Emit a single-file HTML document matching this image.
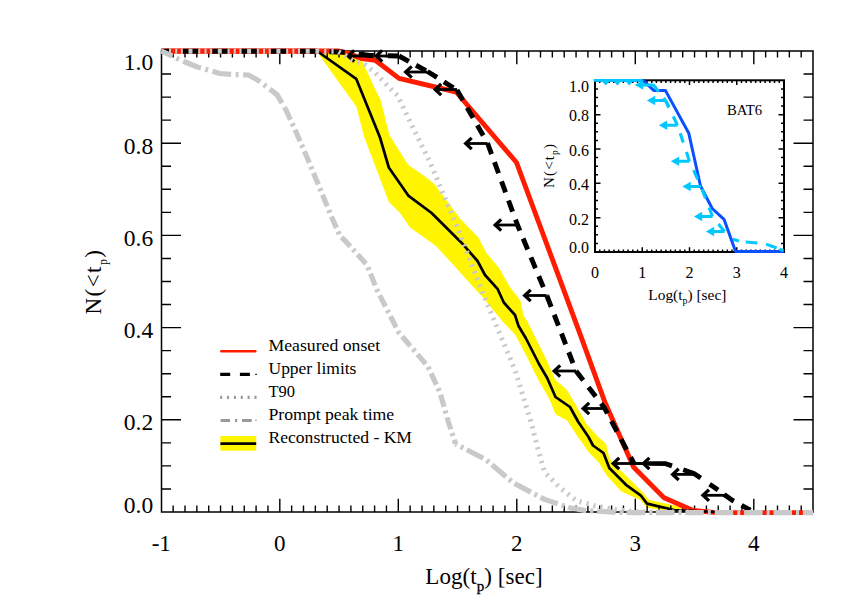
<!DOCTYPE html>
<html><head><meta charset="utf-8"><title>Chart</title>
<style>html,body{margin:0;padding:0;background:#fff}body{width:861px;height:615px;position:relative;overflow:hidden;font-family:"Liberation Serif",serif}</style>
</head><body>
<svg width="861" height="615" viewBox="0 0 861 615" style="position:absolute;left:0;top:0">
<rect width="861" height="615" fill="#fff"/>
<polygon points="317.0,51.0 352.0,51.0 361.0,60.0 374.0,88.0 380.0,100.0 388.8,135.0 407.5,165.0 426.0,178.0 434.0,184.5 460.0,219.4 478.0,238.0 486.0,253.3 499.0,269.0 509.3,287.0 520.0,301.0 523.0,316.0 526.0,320.0 533.8,335.6 545.5,359.0 554.7,379.9 566.4,390.3 574.2,403.3 585.9,424.1 597.6,437.1 605.4,444.0 609.0,459.0 620.0,470.5 640.6,491.0 649.0,500.5 693.0,510.0 674.0,512.0 647.0,506.8 640.6,499.4 621.8,491.0 606.7,474.5 598.9,461.8 589.8,452.7 578.0,435.8 567.7,420.2 556.0,413.7 549.5,398.0 539.0,379.9 526.0,353.8 515.6,334.3 503.9,322.0 486.0,300.0 462.5,274.0 436.4,245.5 410.4,227.0 400.0,212.0 389.5,201.8 365.0,137.5 357.0,106.5 317.0,51.0" fill="#fff500" stroke="#fff500" stroke-width="1.2" stroke-linejoin="round"/>
<path d="M173.15 512.00v-6.60M173.15 51.00v6.60M185.00 512.00v-6.60M185.00 51.00v6.60M196.85 512.00v-6.60M196.85 51.00v6.60M208.70 512.00v-6.60M208.70 51.00v6.60M220.55 512.00v-6.60M220.55 51.00v6.60M232.40 512.00v-6.60M232.40 51.00v6.60M244.25 512.00v-6.60M244.25 51.00v6.60M256.10 512.00v-6.60M256.10 51.00v6.60M267.95 512.00v-6.60M267.95 51.00v6.60M279.80 512.00v-13.30M279.80 51.00v13.30M291.65 512.00v-6.60M291.65 51.00v6.60M303.50 512.00v-6.60M303.50 51.00v6.60M315.35 512.00v-6.60M315.35 51.00v6.60M327.20 512.00v-6.60M327.20 51.00v6.60M339.05 512.00v-6.60M339.05 51.00v6.60M350.90 512.00v-6.60M350.90 51.00v6.60M362.75 512.00v-6.60M362.75 51.00v6.60M374.60 512.00v-6.60M374.60 51.00v6.60M386.45 512.00v-6.60M386.45 51.00v6.60M398.30 512.00v-13.30M398.30 51.00v13.30M410.15 512.00v-6.60M410.15 51.00v6.60M422.00 512.00v-6.60M422.00 51.00v6.60M433.85 512.00v-6.60M433.85 51.00v6.60M445.70 512.00v-6.60M445.70 51.00v6.60M457.55 512.00v-6.60M457.55 51.00v6.60M469.40 512.00v-6.60M469.40 51.00v6.60M481.25 512.00v-6.60M481.25 51.00v6.60M493.10 512.00v-6.60M493.10 51.00v6.60M504.95 512.00v-6.60M504.95 51.00v6.60M516.80 512.00v-13.30M516.80 51.00v13.30M528.65 512.00v-6.60M528.65 51.00v6.60M540.50 512.00v-6.60M540.50 51.00v6.60M552.35 512.00v-6.60M552.35 51.00v6.60M564.20 512.00v-6.60M564.20 51.00v6.60M576.05 512.00v-6.60M576.05 51.00v6.60M587.90 512.00v-6.60M587.90 51.00v6.60M599.75 512.00v-6.60M599.75 51.00v6.60M611.60 512.00v-6.60M611.60 51.00v6.60M623.45 512.00v-6.60M623.45 51.00v6.60M635.30 512.00v-13.30M635.30 51.00v13.30M647.15 512.00v-6.60M647.15 51.00v6.60M659.00 512.00v-6.60M659.00 51.00v6.60M670.85 512.00v-6.60M670.85 51.00v6.60M682.70 512.00v-6.60M682.70 51.00v6.60M694.55 512.00v-6.60M694.55 51.00v6.60M706.40 512.00v-6.60M706.40 51.00v6.60M718.25 512.00v-6.60M718.25 51.00v6.60M730.10 512.00v-6.60M730.10 51.00v6.60M741.95 512.00v-6.60M741.95 51.00v6.60M753.80 512.00v-13.30M753.80 51.00v13.30M765.65 512.00v-6.60M765.65 51.00v6.60M777.50 512.00v-6.60M777.50 51.00v6.60M789.35 512.00v-6.60M789.35 51.00v6.60M801.20 512.00v-6.60M801.20 51.00v6.60M161.50 488.95h9.50M813.00 488.95h-9.50M161.50 465.90h9.50M813.00 465.90h-9.50M161.50 442.85h9.50M813.00 442.85h-9.50M161.50 419.80h19.50M813.00 419.80h-19.50M161.50 396.75h9.50M813.00 396.75h-9.50M161.50 373.70h9.50M813.00 373.70h-9.50M161.50 350.65h9.50M813.00 350.65h-9.50M161.50 327.60h19.50M813.00 327.60h-19.50M161.50 304.55h9.50M813.00 304.55h-9.50M161.50 281.50h9.50M813.00 281.50h-9.50M161.50 258.45h9.50M813.00 258.45h-9.50M161.50 235.40h19.50M813.00 235.40h-19.50M161.50 212.35h9.50M813.00 212.35h-9.50M161.50 189.30h9.50M813.00 189.30h-9.50M161.50 166.25h9.50M813.00 166.25h-9.50M161.50 143.20h19.50M813.00 143.20h-19.50M161.50 120.15h9.50M813.00 120.15h-9.50M161.50 97.10h9.50M813.00 97.10h-9.50M161.50 74.05h9.50M813.00 74.05h-9.50" stroke="#000" stroke-width="1.4" fill="none"/>
<rect x="161.50" y="51.00" width="651.50" height="461.00" fill="none" stroke="#000" stroke-width="1.5"/>
<polyline points="161.5,51.0 338.0,51.0 348.8,53.3 360.0,58.2 375.3,60.3 399.0,78.4 456.2,92.0 516.5,162.5 580.0,333.8 605.0,402.5 633.5,467.0 663.6,497.4 693.0,510.5 716.0,512.6 813.0,512.6" fill="none" stroke="#ff1c00" stroke-width="4.9" stroke-linejoin="round"/>
<line x1="161.5" y1="51.2" x2="317.4" y2="51.2" stroke="#ff1c00" stroke-width="5"/>
<polyline points="161.5,51.2 317.4,51.2 349,52.5 370,55.5 399,56" fill="none" stroke="#000" stroke-width="5" stroke-dasharray="15.3 14" stroke-dashoffset="-21.5"/>
<polyline points="399.0,56.0 427.5,71.5" fill="none" stroke="#000" stroke-width="4.9" stroke-dasharray="11.2 8.2" stroke-dashoffset="0.00" stroke-linejoin="round"/>
<polyline points="427.5,71.5 457.0,90.0" fill="none" stroke="#000" stroke-width="4.9" stroke-dasharray="11.2 8.2" stroke-dashoffset="0.00" stroke-linejoin="round"/>
<polyline points="457.0,90.0 487.5,143.0" fill="none" stroke="#000" stroke-width="4.9" stroke-dasharray="11.8 8.57" stroke-dashoffset="0.00" stroke-linejoin="round"/>
<polyline points="487.5,143.0 517.5,225.0 547.0,296.0" fill="none" stroke="#000" stroke-width="4.9" stroke-dasharray="11.8 8.6" stroke-dashoffset="0.00" stroke-linejoin="round"/>
<polyline points="547.0,296.0 576.0,371.0" fill="none" stroke="#000" stroke-width="4.9" stroke-dasharray="11.6 8.5" stroke-dashoffset="0.00" stroke-linejoin="round"/>
<polyline points="576.0,371.0 604.5,408.0 634.0,463.5" fill="none" stroke="#000" stroke-width="4.9" stroke-dasharray="11.8 8.7" stroke-dashoffset="0.00" stroke-linejoin="round"/>
<polyline points="665.0,463.5 694.0,473.5 713.8,487.0 724.8,495.0 732.6,500.5 752.0,511.0" fill="none" stroke="#000" stroke-width="4.9" stroke-dasharray="7.4 11.9 19.5 10.8 10.3 7.4 11.9 8.8 10 100" stroke-dashoffset="0.00" stroke-linejoin="round"/>
<path d="M370.0 56.0H347.8" stroke="#000" stroke-width="2.8" fill="none"/>
<path d="M354.2 50.4L348.2 56.0L354.2 61.6" stroke="#000" stroke-width="3.3" fill="none" stroke-linejoin="miter"/>
<path d="M398.0 56.0H375.8" stroke="#000" stroke-width="2.8" fill="none"/>
<path d="M382.2 50.4L376.2 56.0L382.2 61.6" stroke="#000" stroke-width="3.3" fill="none" stroke-linejoin="miter"/>
<path d="M427.5 72.0H405.3" stroke="#000" stroke-width="2.8" fill="none"/>
<path d="M411.7 66.4L405.7 72.0L411.7 77.6" stroke="#000" stroke-width="3.3" fill="none" stroke-linejoin="miter"/>
<path d="M457.0 89.5H434.8" stroke="#000" stroke-width="2.8" fill="none"/>
<path d="M441.2 83.9L435.2 89.5L441.2 95.1" stroke="#000" stroke-width="3.3" fill="none" stroke-linejoin="miter"/>
<path d="M487.5 143.5H465.3" stroke="#000" stroke-width="2.8" fill="none"/>
<path d="M471.7 137.9L465.7 143.5L471.7 149.1" stroke="#000" stroke-width="3.3" fill="none" stroke-linejoin="miter"/>
<path d="M517.0 225.0H494.8" stroke="#000" stroke-width="2.8" fill="none"/>
<path d="M501.2 219.4L495.2 225.0L501.2 230.6" stroke="#000" stroke-width="3.3" fill="none" stroke-linejoin="miter"/>
<path d="M546.5 295.5H524.3" stroke="#000" stroke-width="2.8" fill="none"/>
<path d="M530.7 289.9L524.7 295.5L530.7 301.1" stroke="#000" stroke-width="3.3" fill="none" stroke-linejoin="miter"/>
<path d="M576.0 371.0H553.8" stroke="#000" stroke-width="2.8" fill="none"/>
<path d="M560.2 365.4L554.2 371.0L560.2 376.6" stroke="#000" stroke-width="3.3" fill="none" stroke-linejoin="miter"/>
<path d="M605.0 408.5H582.8" stroke="#000" stroke-width="2.8" fill="none"/>
<path d="M589.2 402.9L583.2 408.5L589.2 414.1" stroke="#000" stroke-width="3.3" fill="none" stroke-linejoin="miter"/>
<path d="M635.0 463.5H612.8" stroke="#000" stroke-width="2.8" fill="none"/>
<path d="M619.2 457.9L613.2 463.5L619.2 469.1" stroke="#000" stroke-width="3.3" fill="none" stroke-linejoin="miter"/>
<path d="M665.2 463.5H643.0" stroke="#000" stroke-width="2.8" fill="none"/>
<path d="M649.4 457.9L643.4 463.5L649.4 469.1" stroke="#000" stroke-width="3.3" fill="none" stroke-linejoin="miter"/>
<path d="M694.5 474.4H672.3" stroke="#000" stroke-width="2.8" fill="none"/>
<path d="M678.7 468.8L672.7 474.4L678.7 480.0" stroke="#000" stroke-width="3.3" fill="none" stroke-linejoin="miter"/>
<path d="M724.8 495.3H702.6" stroke="#000" stroke-width="2.8" fill="none"/>
<path d="M709.0 489.7L703.0 495.3L709.0 500.9" stroke="#000" stroke-width="3.3" fill="none" stroke-linejoin="miter"/>
<polyline points="317.0,51.0 356.2,78.8 380.0,137.5 388.8,167.5 408.6,195.9 431.6,213.0 462.5,243.8 477.5,261.0 485.0,275.0 497.5,288.8 503.8,302.5 515.0,315.0 518.5,326.0 526.0,338.5 539.0,364.0 547.2,378.0 555.5,397.0 570.0,407.0 578.0,421.5 588.5,437.0 593.0,445.5 603.5,453.0 609.3,468.0 626.0,484.8 640.6,495.3 647.0,503.6 674.0,510.0 715.0,512.0" fill="none" stroke="#000" stroke-width="2.7" stroke-linejoin="round"/>
<line x1="161.5" y1="51.2" x2="317.4" y2="51.2" stroke="#c9c9c9" stroke-width="5" stroke-dasharray="2 5.7 4 5.8 2 4.2 2 3.6" stroke-dashoffset="10"/>
<polyline points="317.0,51.0 338.0,51.5 346.0,56.0 352.0,60.0 358.5,62.4 365.5,65.0 375.3,72.8 387.8,86.0 397.5,95.5 415.0,132.0 429.0,160.0 442.0,191.0 462.0,239.0 482.5,292.5 497.0,327.0 515.0,370.0 531.0,422.0 538.0,449.0 544.5,472.0 559.0,487.0 576.0,500.5 594.7,505.7 617.7,510.0 640.0,512.0 690.0,512.0" fill="none" stroke="#c9c9c9" stroke-width="5" stroke-dasharray="2.2 5"/>
<polyline points="161.5,51.0 181.0,60.4 197.4,67.0 220.0,73.5 234.8,74.6 248.6,75.0 257.6,80.0 277.0,94.6 285.2,108.4" fill="none" stroke="#c9c9c9" stroke-width="5.2" stroke-dasharray="19 4.5 3 4.5" stroke-dashoffset="7" stroke-linejoin="round"/>
<polyline points="285.2,108.4 295.0,129.5 309.0,162.0 332.4,218.7 340.0,236.0 346.3,242.0 367.0,265.0 377.0,290.0 398.8,332.6 428.0,366.6 440.0,392.5 448.4,422.0 455.7,444.0" fill="none" stroke="#c9c9c9" stroke-width="5.2" stroke-dasharray="12.5 4 3 4" stroke-dashoffset="0" stroke-linejoin="round"/>
<polyline points="455.7,444.0 486.0,459.7 513.0,482.7 544.5,499.4 569.6,507.8 586.0,510.6 613.5,512.2 626.5,512.6 813.0,512.6" fill="none" stroke="#c9c9c9" stroke-width="5.2" stroke-dasharray="18.5 4 3 3.9" stroke-dashoffset="16.89" stroke-linejoin="round"/>
<line x1="634" y1="463.5" x2="665" y2="463.5" stroke="#000" stroke-width="3"/><line x1="648" y1="463.5" x2="666" y2="463.7" stroke="#000" stroke-width="4.7"/>
<line x1="221.4" y1="351.3" x2="255.2" y2="351.3" stroke="#ff1c00" stroke-width="2.6" stroke-linecap="round"/>
<path d="M220.2 374.4H230.2M239.9 374.4H249.9" stroke="#000" stroke-width="3.3" fill="none"/><path d="M255.3 374.4H256.8" stroke="#000" stroke-width="1.4" fill="none"/>
<line x1="220.1" y1="397.4" x2="257.0" y2="397.4" stroke="#9c9c9c" stroke-width="3.1" stroke-dasharray="2.1 4.77"/>
<path d="M220.6 420.4H230.1M235 420.4H237.2M242 420.4H251.8" stroke="#9a9a9a" stroke-width="3" fill="none"/><path d="M255.2 420.4H256.7" stroke="#9a9a9a" stroke-width="1.4" fill="none"/>
<rect x="220.4" y="436" width="35.8" height="14.7" fill="#fff500"/>
<line x1="220.4" y1="443.6" x2="256.2" y2="443.6" stroke="#000" stroke-width="2.6"/>
<text x="268.5" y="351.3" font-family="Liberation Serif, serif" font-size="17" textLength="111.6" lengthAdjust="spacingAndGlyphs">Measured onset</text>
<text x="268.5" y="374.3" font-family="Liberation Serif, serif" font-size="17" textLength="87.9" lengthAdjust="spacingAndGlyphs">Upper limits</text>
<text x="268.5" y="397.3" font-family="Liberation Serif, serif" font-size="17" textLength="26.5" lengthAdjust="spacingAndGlyphs">T90</text>
<text x="268.5" y="420.3" font-family="Liberation Serif, serif" font-size="17" textLength="125.7" lengthAdjust="spacingAndGlyphs">Prompt peak time</text>
<text x="268.5" y="443.3" font-family="Liberation Serif, serif" font-size="17" textLength="143.5" lengthAdjust="spacingAndGlyphs">Reconstructed - KM</text>
<text x="153.2" y="69.5" text-anchor="end" font-family="Liberation Serif, serif" font-size="23.5">1.0</text>
<text x="153.2" y="153.6" text-anchor="end" font-family="Liberation Serif, serif" font-size="23.5">0.8</text>
<text x="153.2" y="246.0" text-anchor="end" font-family="Liberation Serif, serif" font-size="23.5">0.6</text>
<text x="153.2" y="338.3" text-anchor="end" font-family="Liberation Serif, serif" font-size="23.5">0.4</text>
<text x="153.2" y="430.4" text-anchor="end" font-family="Liberation Serif, serif" font-size="23.5">0.2</text>
<text x="153.2" y="512.9" text-anchor="end" font-family="Liberation Serif, serif" font-size="23.5">0.0</text>
<text x="161.3" y="551" text-anchor="middle" font-family="Liberation Serif, serif" font-size="23">-1</text>
<text x="279.8" y="551" text-anchor="middle" font-family="Liberation Serif, serif" font-size="23">0</text>
<text x="398.3" y="551" text-anchor="middle" font-family="Liberation Serif, serif" font-size="23">1</text>
<text x="516.8" y="551" text-anchor="middle" font-family="Liberation Serif, serif" font-size="23">2</text>
<text x="635.3" y="551" text-anchor="middle" font-family="Liberation Serif, serif" font-size="23">3</text>
<text x="753.8" y="551" text-anchor="middle" font-family="Liberation Serif, serif" font-size="23">4</text>
<text x="425.3" y="584.3" font-family="Liberation Serif, serif" font-size="23" textLength="117.3" lengthAdjust="spacing">Log(t<tspan font-size="15" dy="6.4" stroke="#000" stroke-width="0.35">p</tspan><tspan dy="-6.4">) [sec]</tspan></text>
<text transform="translate(101.2,314.5) rotate(-90)" font-family="Liberation Serif, serif" font-size="23" textLength="64.5" lengthAdjust="spacing">N(&lt;t<tspan font-size="12" dy="6">p</tspan><tspan dy="-6">)</tspan></text>
<rect x="595.0" y="80.3" width="189.0" height="171.7" fill="#fff"/>
<path d="M599.73 252.00v-2.60M599.73 80.30v2.60M604.45 252.00v-2.60M604.45 80.30v2.60M609.17 252.00v-2.60M609.17 80.30v2.60M613.90 252.00v-2.60M613.90 80.30v2.60M618.62 252.00v-2.60M618.62 80.30v2.60M623.35 252.00v-2.60M623.35 80.30v2.60M628.08 252.00v-2.60M628.08 80.30v2.60M632.80 252.00v-2.60M632.80 80.30v2.60M637.52 252.00v-2.60M637.52 80.30v2.60M642.25 252.00v-4.80M642.25 80.30v4.80M646.98 252.00v-2.60M646.98 80.30v2.60M651.70 252.00v-2.60M651.70 80.30v2.60M656.42 252.00v-2.60M656.42 80.30v2.60M661.15 252.00v-2.60M661.15 80.30v2.60M665.88 252.00v-2.60M665.88 80.30v2.60M670.60 252.00v-2.60M670.60 80.30v2.60M675.33 252.00v-2.60M675.33 80.30v2.60M680.05 252.00v-2.60M680.05 80.30v2.60M684.77 252.00v-2.60M684.77 80.30v2.60M689.50 252.00v-4.80M689.50 80.30v4.80M694.23 252.00v-2.60M694.23 80.30v2.60M698.95 252.00v-2.60M698.95 80.30v2.60M703.67 252.00v-2.60M703.67 80.30v2.60M708.40 252.00v-2.60M708.40 80.30v2.60M713.12 252.00v-2.60M713.12 80.30v2.60M717.85 252.00v-2.60M717.85 80.30v2.60M722.58 252.00v-2.60M722.58 80.30v2.60M727.30 252.00v-2.60M727.30 80.30v2.60M732.02 252.00v-2.60M732.02 80.30v2.60M736.75 252.00v-4.80M736.75 80.30v4.80M741.48 252.00v-2.60M741.48 80.30v2.60M746.20 252.00v-2.60M746.20 80.30v2.60M750.92 252.00v-2.60M750.92 80.30v2.60M755.65 252.00v-2.60M755.65 80.30v2.60M760.38 252.00v-2.60M760.38 80.30v2.60M765.10 252.00v-2.60M765.10 80.30v2.60M769.83 252.00v-2.60M769.83 80.30v2.60M774.55 252.00v-2.60M774.55 80.30v2.60M779.27 252.00v-2.60M779.27 80.30v2.60M595.00 243.41h3.00M784.00 243.41h-3.00M595.00 234.83h3.00M784.00 234.83h-3.00M595.00 226.25h3.00M784.00 226.25h-3.00M595.00 217.66h5.50M784.00 217.66h-5.50M595.00 209.07h3.00M784.00 209.07h-3.00M595.00 200.49h3.00M784.00 200.49h-3.00M595.00 191.91h3.00M784.00 191.91h-3.00M595.00 183.32h5.50M784.00 183.32h-5.50M595.00 174.74h3.00M784.00 174.74h-3.00M595.00 166.15h3.00M784.00 166.15h-3.00M595.00 157.56h3.00M784.00 157.56h-3.00M595.00 148.98h5.50M784.00 148.98h-5.50M595.00 140.40h3.00M784.00 140.40h-3.00M595.00 131.81h3.00M784.00 131.81h-3.00M595.00 123.23h3.00M784.00 123.23h-3.00M595.00 114.64h5.50M784.00 114.64h-5.50M595.00 106.06h3.00M784.00 106.06h-3.00M595.00 97.47h3.00M784.00 97.47h-3.00M595.00 88.88h3.00M784.00 88.88h-3.00" stroke="#000" stroke-width="1.5" fill="none"/>
<rect x="595.0" y="80.3" width="189.0" height="171.7" fill="none" stroke="#000" stroke-width="2"/>
<clipPath id="ic"><rect x="593.0" y="79.0" width="193.0" height="174.7"/></clipPath>
<g clip-path="url(#ic)">
<polyline points="595.0,80.3 643.0,80.3 653.7,90.4 665.4,90.4 688.8,133.3 700.5,186.0 712.2,208.5 724.0,219.3 735.6,251.5 784.0,251.5" fill="none" stroke="#0a50ff" stroke-width="3" stroke-linejoin="round"/>
<line x1="593.7" y1="80" x2="642.5" y2="80" stroke="#00c8ff" stroke-width="3.5"/>
<polyline points="783.4,250.5 765.0,243.7 741.5,241.7 732.0,239.0 724.5,231.5" fill="none" stroke="#00c8ff" stroke-width="3.1" stroke-dasharray="4 3.2 11.3 8.8 11.6 7 6.2 100" stroke-dashoffset="0.00" stroke-linejoin="round"/>
<polyline points="724.5,231.5 712.5,216.5" fill="none" stroke="#00c8ff" stroke-width="3.1" stroke-dasharray="9.7 10" stroke-dashoffset="0.00" stroke-linejoin="round"/>
<polyline points="712.5,216.5 701.0,186.5" fill="none" stroke="#00c8ff" stroke-width="3.1" stroke-dasharray="9.7 10" stroke-dashoffset="0.00" stroke-linejoin="round"/>
<polyline points="701.0,186.5 689.5,161.2" fill="none" stroke="#00c8ff" stroke-width="3.1" stroke-dasharray="9.7 10" stroke-dashoffset="-8.20" stroke-linejoin="round"/>
<polyline points="689.5,161.2 677.5,125.2" fill="none" stroke="#00c8ff" stroke-width="3.1" stroke-dasharray="9.7 10" stroke-dashoffset="0.00" stroke-linejoin="round"/>
<polyline points="677.5,125.2 665.5,100.5" fill="none" stroke="#00c8ff" stroke-width="3.1" stroke-dasharray="9.7 10" stroke-dashoffset="0.00" stroke-linejoin="round"/>
<polyline points="669.0,107.0 665.5,100.5 653.5,85.0 643.0,80.3" fill="none" stroke="#00c8ff" stroke-width="3.1" stroke-dasharray="10.5 8 9 100" stroke-dashoffset="0.00" stroke-linejoin="round"/>
<path d="M601.7 81L609.7 81L605.7 85.4Z" fill="#00c8ff"/>
<path d="M613.4 81L621.4 81L617.4 85.4Z" fill="#00c8ff"/>
<path d="M625.2 81L633.2 81L629.2 85.4Z" fill="#00c8ff"/>
<path d="M653.5 85.0H639.2" stroke="#00c8ff" stroke-width="3" fill="none"/>
<path d="M634.9 85.0L643.2 80.3L643.2 89.7Z" fill="#00c8ff"/>
<path d="M665.5 100.5H651.2" stroke="#00c8ff" stroke-width="3" fill="none"/>
<path d="M646.9 100.5L655.2 95.8L655.2 105.2Z" fill="#00c8ff"/>
<path d="M677.5 125.2H663.2" stroke="#00c8ff" stroke-width="3" fill="none"/>
<path d="M658.9 125.2L667.2 120.5L667.2 129.9Z" fill="#00c8ff"/>
<path d="M689.5 161.2H675.2" stroke="#00c8ff" stroke-width="3" fill="none"/>
<path d="M670.9 161.2L679.2 156.5L679.2 165.9Z" fill="#00c8ff"/>
<path d="M701.0 186.5H686.7" stroke="#00c8ff" stroke-width="3" fill="none"/>
<path d="M682.4 186.5L690.7 181.8L690.7 191.2Z" fill="#00c8ff"/>
<path d="M712.5 216.5H698.2" stroke="#00c8ff" stroke-width="3" fill="none"/>
<path d="M693.9 216.5L702.2 211.8L702.2 221.2Z" fill="#00c8ff"/>
<path d="M724.5 231.5H710.2" stroke="#00c8ff" stroke-width="3" fill="none"/>
<path d="M705.9 231.5L714.2 226.8L714.2 236.2Z" fill="#00c8ff"/>
</g>
<text x="588.9" y="92.3" text-anchor="end" font-family="Liberation Serif, serif" font-size="16">1.0</text>
<text x="588.9" y="121.3" text-anchor="end" font-family="Liberation Serif, serif" font-size="16">0.8</text>
<text x="588.9" y="155.7" text-anchor="end" font-family="Liberation Serif, serif" font-size="16">0.6</text>
<text x="588.9" y="190.0" text-anchor="end" font-family="Liberation Serif, serif" font-size="16">0.4</text>
<text x="588.9" y="224.5" text-anchor="end" font-family="Liberation Serif, serif" font-size="16">0.2</text>
<text x="588.9" y="252.5" text-anchor="end" font-family="Liberation Serif, serif" font-size="16">0.0</text>
<text x="595.0" y="277.6" text-anchor="middle" font-family="Liberation Serif, serif" font-size="16">0</text>
<text x="642.2" y="277.6" text-anchor="middle" font-family="Liberation Serif, serif" font-size="16">1</text>
<text x="689.5" y="277.6" text-anchor="middle" font-family="Liberation Serif, serif" font-size="16">2</text>
<text x="736.8" y="277.6" text-anchor="middle" font-family="Liberation Serif, serif" font-size="16">3</text>
<text x="784.0" y="277.6" text-anchor="middle" font-family="Liberation Serif, serif" font-size="16">4</text>
<text x="648.3" y="300" font-family="Liberation Serif, serif" font-size="15.4">Log(t<tspan font-size="10" dy="4">p</tspan><tspan dy="-4">) [sec]</tspan></text>
<text transform="translate(554.2,188) rotate(-90)" font-family="Liberation Serif, serif" font-size="15" textLength="44" lengthAdjust="spacing">N(&lt;t<tspan font-size="9.5" dy="4">p</tspan><tspan dy="-4">)</tspan></text>
<text x="726.9" y="115" font-family="Liberation Serif, serif" font-size="14.2" textLength="35.1" lengthAdjust="spacingAndGlyphs">BAT6</text>
</svg>
</body></html>
